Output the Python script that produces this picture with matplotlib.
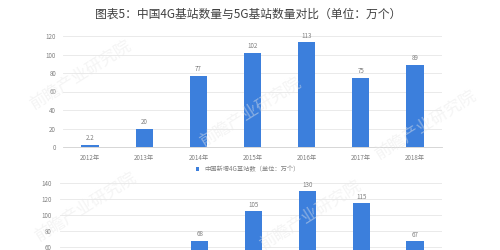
import matplotlib
matplotlib.use('Agg')
import matplotlib.pyplot as plt

plt.rcParams['font.family'] = ['Noto Sans CJK SC', 'DejaVu Sans']

# data
years = ['2012年', '2013年', '2014年', '2015年', '2016年', '2017年', '2018年']
new_4g = [2.2, 20, 77, 102, 113, 75, 89]
# lower chart is cut off at the bottom of the picture; only these bars show
low_pos = [2, 3, 4, 5, 6]
low_vals = [68, 105, 130, 115, 67]

title = '图表5：中国4G基站数量与5G基站数量对比（单位：万个）'
legend_label = '中国新增4G基站数（单位：万个）'

bar_color = '#3c7fdc'
text_color = '#808080'
grid_color = '#e6e6e6'

fig = plt.figure(figsize=(5, 2.5), dpi=100)
fig.text(0.497, 0.944, title, ha='center', va='center', fontsize=8.5, color='#404040')

# ---- upper chart
ax = fig.add_axes([0.126, 0.412, 0.758, 0.444])
x = list(range(len(years)))
ax.bar(x, new_4g, width=0.32, color=bar_color, zorder=3, label=legend_label)
for xi, v in zip(x, new_4g):
    ax.text(xi, v + 3, f'{v:g}', ha='center', va='bottom', fontsize=4.5, color=text_color)
ax.set_xlim(-0.5, 6.5)
ax.set_ylim(0, 120)
ax.set_yticks(range(0, 121, 20))
ax.set_xticks(x)
ax.set_xticklabels(years)
ax.grid(axis='y', color=grid_color, linewidth=0.6, zorder=0)
for s in ['top', 'right', 'left']:
    ax.spines[s].set_visible(False)
ax.spines['bottom'].set_color('#d0d0d0')
ax.spines['bottom'].set_linewidth(0.6)
ax.tick_params(length=0, labelsize=4.5, colors=text_color, pad=5)
ax.legend(loc='center', bbox_to_anchor=(0.487, -0.2), frameon=False, fontsize=4.5,
          handlelength=0.5, handleheight=0.5, labelcolor=text_color)

# ---- lower chart (partly outside the picture)
ax2 = fig.add_axes([0.12, -0.18, 0.764, 0.448])
ax2.bar(low_pos, low_vals, width=0.32, color=bar_color, zorder=3)
for xi, v in zip(low_pos, low_vals):
    ax2.text(xi, v + 3, f'{v:g}', ha='center', va='bottom', fontsize=4.5, color=text_color)
ax2.set_xlim(-0.6, 6.5)
ax2.set_ylim(0, 140)
ax2.set_yticks(range(60, 141, 20))
ax2.set_xticks([])
ax2.grid(axis='y', color=grid_color, linewidth=0.6, zorder=0)
for s in ax2.spines.values():
    s.set_visible(False)
ax2.tick_params(length=0, labelsize=4.5, colors=text_color, pad=6)

# faint watermarks
for wx, wy in [(0.16, 0.7), (0.5, 0.55), (0.85, 0.5), (0.17, 0.17), (0.62, 0.14)]:
    fig.text(wx, wy, '前瞻产业研究院', fontsize=12, color='#e8e8e8', alpha=0.45,
             rotation=32, ha='center', va='center', zorder=0)

fig.savefig('out.png', dpi=100)
